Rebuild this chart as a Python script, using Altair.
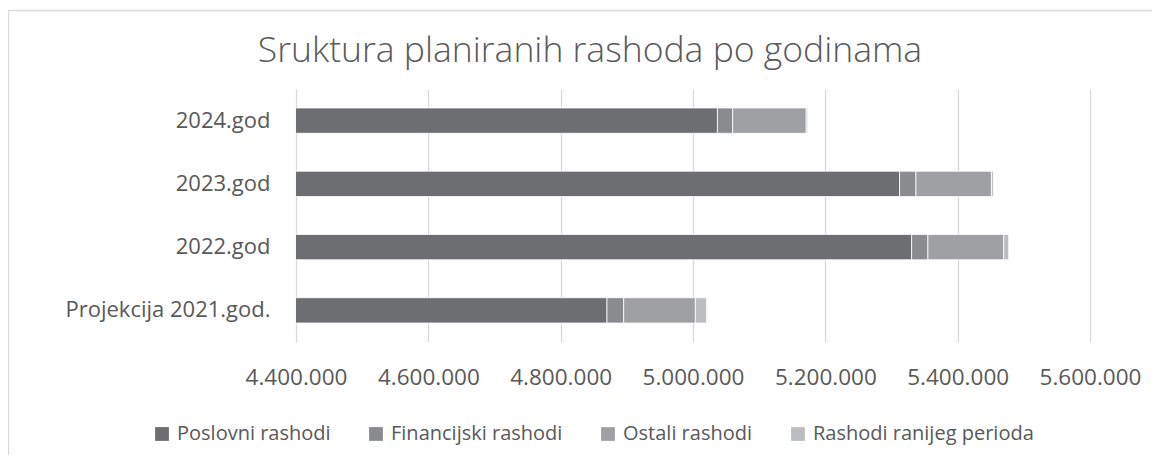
import altair as alt
import pandas as pd

years = ["Projekcija 2021.god.", "2022.god", "2023.god", "2024.god"]
series = ["Poslovni rashodi", "Financijski rashodi", "Ostali rashodi", "Rashodi ranijeg perioda"]
poslovni = [4870000, 5330400, 5312250, 5036900]
financijski = [25200, 24600, 24650, 23100]
ostali = [108400, 114600, 114100, 111100]
raniji = [16700, 7550, 3000, 2200]
colors = ["#6D6E71", "#8A8B8E", "#9FA0A3", "#BCBDC0"]
x_ticks = [4400000, 4600000, 4800000, 5000000, 5200000, 5400000, 5600000]
title_text = "Sruktura planiranih rashoda po godinama"

rows = []
for i, y in enumerate(years):
    for j, (s, vals) in enumerate(zip(series, [poslovni, financijski, ostali, raniji])):
        rows.append({"godina": y, "vrsta": s, "iznos": vals[i], "red": j})
df = pd.DataFrame(rows)

FONT = "Open Sans"
TXT = "#595959"

bars = alt.Chart(df).mark_bar(clip=True, stroke="white", strokeWidth=0.8).encode(
    x=alt.X("iznos:Q", stack="zero",
            scale=alt.Scale(domain=[4400000, 5600000], nice=False, zero=False),
            axis=alt.Axis(values=x_ticks, format=",d", title=None, grid=True,
                          gridColor="#D9D9D9", gridWidth=1.3, domain=False, ticks=False,
                          tickSize=0, labelFont=FONT, labelFontSize=22.5, labelColor=TXT,
                          labelPadding=35, labelBaseline="middle", labelOverlap=False,
                          labelFlush=False)),
    y=alt.Y("godina:N", sort=years[::-1],
            scale=alt.Scale(paddingInner=0.6, paddingOuter=0.3),
            axis=alt.Axis(title=None, domain=False, ticks=False, tickSize=0,
                          labelFont=FONT, labelFontSize=22, labelColor=TXT,
                          labelPadding=26, labelLimit=400)),
    color=alt.Color("vrsta:N", sort=series,
                    scale=alt.Scale(domain=series, range=colors),
                    legend=alt.Legend(title=None, orient="none", legendX=-144, legendY=335,
                                      direction="horizontal", columns=4,
                                      symbolType="square", symbolSize=190,
                                      symbolStrokeWidth=0, labelFont=FONT,
                                      labelFontSize=20, labelColor=TXT, labelOffset=5,
                                      labelLimit=400, columnPadding=35, padding=0)),
    order=alt.Order("red:Q"),
)

one = alt.Data(values=[{"a": 1}])

border = alt.Chart(one).mark_rect(
    fill="transparent", stroke="#D9D9D9", strokeWidth=1.3, clip=False
).encode(x=alt.value(-287.5), x2=alt.value(1000), y=alt.value(-78.5), y2=alt.value(600))

title = alt.Chart(one).mark_text(
    text=title_text, font=FONT, fontSize=35.5, fontWeight=300, color=TXT, align="center",
    baseline="middle", clip=False
).encode(x=alt.value(590 - 296), y=alt.value(51 - 89))

chart = alt.layer(border, title, bars).properties(
    width=794, height=253,
    autosize=alt.AutoSizeParams(type="none"),
    padding={"left": 288, "top": 81, "right": 62, "bottom": 113},
).configure(
    locale=alt.Locale(number=alt.NumberLocale(decimal=",", thousands=".", grouping=[3],
                                              currency=["", ""])),
).configure_view(stroke=None)

chart.save("out.html", embed_options={"renderer": "svg", "actions": False})
